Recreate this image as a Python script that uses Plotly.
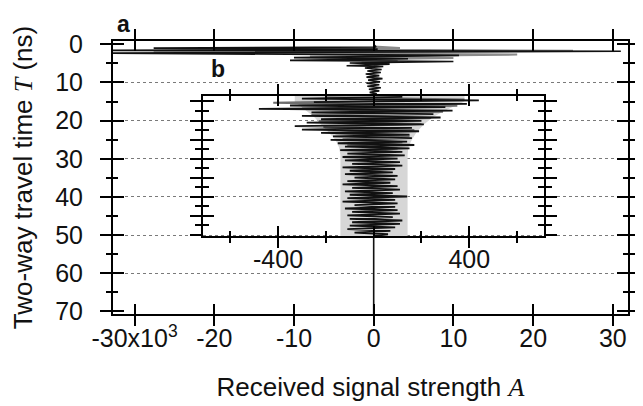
import plotly.graph_objects as go

# ---------------- data ----------------
# main trace (amplitude in 10^3 units, time in ns)
main_t = [0.0, 0.7, 1.0, 1.25, 1.6, 1.8, 2.3, 2.9, 3.5, 3.8, 4.2, 4.5, 4.9, 5.2, 5.6, 5.8,
          6.2, 6.6, 7.0, 7.4, 7.8, 8.2, 8.6, 9.0, 9.4, 9.8, 10.2, 10.6, 11.0, 11.4, 11.8,
          12.2, 12.6, 13.0, 13.4, 13.8, 70.7]
main_a = [0.0, 0.3, -27.6, 0.5, -34.0, 31.0, -34.0, 10.7, -10.0, 4.3, -10.5, 10.0, -3.0, 2.0,
          -3.4, 1.2, -1.1, 1.0, -0.8, 0.9, -1.0, 0.7, -0.9, 1.1, -0.7, 0.8, -0.9, 0.7, -0.8,
          0.9, -0.6, 0.7, -0.5, 0.4, -0.3, 0.0, 0.0]

main_gray_t = [0.6, 0.95, 1.2, 1.7, 2.1, 2.7, 3.2, 3.6, 4.0, 4.4, 4.8, 5.2, 5.6]
main_gray_a = [0.0, 3.3, -20.0, 25.0, -27.6, 18.0, -8.0, 10.0, -4.0, 3.0, -1.5, 0.8, 0.0]

# inset trace (amplitude, time in ns)
ins_t = [13.8, 14.25, 14.7, 15.15, 15.6, 16.05, 16.5, 16.95, 17.4, 17.85, 18.3, 18.75, 19.2,
         19.65, 20.1, 20.55, 21.0, 21.45, 21.9, 22.35, 22.8, 23.25, 23.7, 24.15, 24.6, 25.05,
         25.5, 25.95, 26.4, 26.85, 27.3, 27.75, 28.2, 28.65, 29.1, 29.55, 30.0, 30.45, 30.9,
         31.35, 31.8, 32.25, 32.7, 33.15, 33.6, 34.05, 34.5, 34.95, 35.4, 35.85, 36.3, 36.75,
         37.2, 37.65, 38.1, 38.55, 39.0, 39.45, 39.9, 40.35, 40.8, 41.25, 41.7, 42.15, 42.6,
         43.05, 43.5, 43.95, 44.4, 44.85, 45.3, 45.75, 46.2, 46.65, 47.1, 47.55, 48.0, 48.45,
         48.9, 49.35, 49.8, 50.3]
ins_a = [120, -300, 440, -250, 390, -350, 300, -480, 330, -260, 250, -300, 280, -220, 200,
         -280, 210, -330, 160, -300, 190, -220, 150, -170, 160, -180, 140, -150, 170, -120,
         150, -140, 120, -110, 130, -130, 100, -120, 110, -90, 120, -130, 90, -100, 80, -120,
         100, -80, 90, -110, 70, -130, 100, -90, 110, -120, 80, -100, 140, -110, 90, -130,
         100, -80, 90, -120, 100, -90, 110, -110, 80, -100, 120, -90, 110, -100, 90, -110,
         70, -80, 60, 0]

ins_gray_t = [13.9, 14.5, 15.3, 16.1, 16.9, 17.7, 18.5, 19.3, 20.1, 20.9, 21.7, 22.5, 23.3,
              24.1, 24.9, 25.7, 26.5, 27.3, 28.1]
ins_gray_a = [-200, 380, -420, 350, -300, 290, -260, 240, -230, 200, -210, 170, -160, 150,
              -130, 120, -110, 100, 0]

env_t = [13.56, 15.0, 17.0, 19.0, 21.0, 23.0, 25.0, 27.0, 29.0, 50.26]
env_l = [-330, -330, -290, -250, -220, -190, -160, -145, -139, -139]
env_r = [380, 380, 310, 250, 210, 180, 160, 145, 142, 142]

main_xticks = [-30, -20, -10, 0, 10, 20, 30]
main_xtext = ['-30x10<sup>3</sup>', '-20', '-10', '0', '10', '20', '30']
grid_t = [10, 20, 30, 40, 50, 60]
ins_xlabeled = [-400, 400]
ins_xtext = ['-400', '400']
ins_xmajor = [-400, 0, 400]
ins_xminor = [-600, -200, 200, 600]

# ---------------- figure ----------------
K = '#000000'
FONT = 'Liberation Sans, Arial, sans-serif'
fig = go.Figure()

fig.add_trace(go.Scatter(x=main_gray_a, y=main_gray_t, mode='lines',
                         line=dict(color='#8a8a8a', width=2), xaxis='x', yaxis='y',
                         hoverinfo='skip'))
fig.add_trace(go.Scatter(x=main_a, y=main_t, mode='lines',
                         line=dict(color='#111111', width=1.6), xaxis='x', yaxis='y',
                         hoverinfo='skip'))
# empty traces that keep the helper axes alive
fig.add_trace(go.Scatter(x=[], y=[], xaxis='x3', yaxis='y3'))
fig.add_trace(go.Scatter(x=[], y=[], xaxis='x', yaxis='y5'))
fig.add_trace(go.Scatter(x=[], y=[], xaxis='x4', yaxis='y4'))

fig.add_trace(go.Scatter(x=env_r + env_l[::-1], y=env_t + env_t[::-1], mode='lines',
                         fill='toself', fillcolor='#d6d6d6', line=dict(width=0),
                         xaxis='x2', yaxis='y2', hoverinfo='skip'))
fig.add_trace(go.Scatter(x=ins_gray_a, y=ins_gray_t, mode='lines',
                         line=dict(color='#6e6e6e', width=2), xaxis='x2', yaxis='y2',
                         hoverinfo='skip'))
fig.add_trace(go.Scatter(x=ins_a, y=ins_t, mode='lines',
                         line=dict(color='#111111', width=1.8), xaxis='x2', yaxis='y2',
                         hoverinfo='skip'))

xr = [-32.7, 31.9]
yr = [70.7, -0.87]
ixr = [-715, 713]
iyr = [50.26, 13.56]
IXD = [0.1742, 0.8371]
IYD = [0.2857, 0.7985]

base = dict(showgrid=False, zeroline=False, tickcolor=K, tickwidth=2)
TF = 25
SERIF = 'font-family:Liberation Serif'

fig.update_layout(
    width=643, height=406,
    margin=dict(l=105, r=10, t=33, b=100),
    paper_bgcolor='white', plot_bgcolor='rgba(0,0,0,0)',
    showlegend=False, hovermode=False,
    font=dict(family=FONT, size=TF, color='#111111'),
    xaxis=dict(base, domain=[0, 1], range=xr, anchor='y', tickmode='array',
               tickvals=main_xticks, ticktext=main_xtext, ticks='outside', ticklen=10,
               mirror='ticks', showline=True, linecolor=K, linewidth=2,
               ticklabelstandoff=-9, tickfont=dict(size=TF),
               title=dict(text='Received signal strength <span style="' + SERIF + '"><i>A</i></span>',
                          standoff=27, font=dict(size=26))),
    xaxis3=dict(base, overlaying='x', anchor='y', range=xr, tickmode='array',
                tickvals=main_xticks, ticks='inside', ticklen=10, mirror='ticks',
                showticklabels=False, showline=False),
    yaxis=dict(base, domain=[0, 1], range=yr, anchor='x', tickmode='linear', tick0=0,
               dtick=10, ticks='outside', ticklen=11,
               minor=dict(tick0=0, dtick=5, ticks='outside', ticklen=5, tickwidth=2,
                          tickcolor=K),
               mirror='ticks', showline=True, linecolor=K, linewidth=2,
               ticklabelstandoff=12, tickfont=dict(size=TF),
               title=dict(text='Two-way travel time <span style="' + SERIF + '"><i>T</i></span> (ns)',
                          standoff=16, font=dict(size=26))),
    yaxis3=dict(base, overlaying='y', anchor='x', range=yr, tickmode='linear', tick0=0,
                dtick=10, ticks='inside', ticklen=11,
                minor=dict(tick0=0, dtick=5, ticks='inside', ticklen=5, tickwidth=2,
                           tickcolor=K),
                mirror='ticks', showticklabels=False, showline=False),
    yaxis5=dict(overlaying='y', anchor='x', range=yr, tickmode='array', tickvals=grid_t,
                showgrid=True, gridcolor='#7a7a7a', gridwidth=1, griddash='dot',
                ticks='', showticklabels=False, showline=False, zeroline=False),
    xaxis2=dict(base, domain=IXD, range=ixr, anchor='y2', tickmode='array',
                tickvals=ins_xlabeled, ticktext=ins_xtext, ticks='outside', ticklen=10,
                minor=dict(tickmode='array', tickvals=ins_xminor, ticks='outside',
                           ticklen=5, tickwidth=2, tickcolor=K),
                mirror='ticks', showline=True, linecolor=K, linewidth=2,
                ticklabelstandoff=-10, tickfont=dict(size=TF)),
    xaxis4=dict(base, overlaying='x2', anchor='y2', range=ixr, tickmode='array',
                tickvals=ins_xmajor, ticks='inside', ticklen=10,
                minor=dict(tickmode='array', tickvals=ins_xminor, ticks='inside',
                           ticklen=5, tickwidth=2, tickcolor=K),
                mirror='ticks', showticklabels=False, showline=False),
    yaxis2=dict(base, domain=IYD, range=iyr, anchor='x2', tickmode='linear', tick0=15,
                dtick=5, ticks='outside', ticklen=11,
                minor=dict(tick0=15, dtick=2.5, ticks='outside', ticklen=6, tickwidth=2,
                           tickcolor=K),
                mirror='ticks', showline=True, linecolor=K, linewidth=2,
                showticklabels=False),
    yaxis4=dict(base, overlaying='y2', anchor='x2', range=iyr, tickmode='linear', tick0=15,
                dtick=5, ticks='inside', ticklen=11,
                minor=dict(tick0=15, dtick=2.5, ticks='inside', ticklen=6, tickwidth=2,
                           tickcolor=K),
                mirror='ticks', showticklabels=False, showline=False),
    annotations=[
        dict(text='<b>a</b>', x=0.0208, y=1.117, xref='paper', yref='paper',
             showarrow=False, xanchor='center', yanchor='top', font=dict(size=23)),
        dict(text='<b>b</b>', x=0.2045, y=0.898, xref='paper', yref='paper',
             showarrow=False, xanchor='center', yanchor='middle', font=dict(size=23)),
    ],
)

fig.write_html('out.html')
